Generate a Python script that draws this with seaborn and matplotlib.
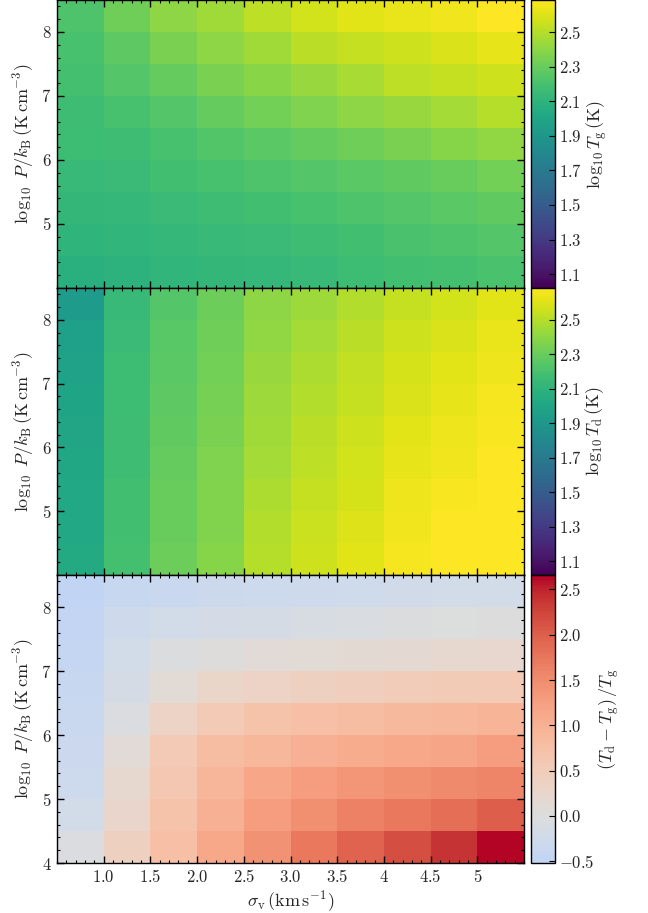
import numpy as np
import pandas as pd
import matplotlib
matplotlib.use("Agg")
import matplotlib.pyplot as plt
import seaborn as sns
from matplotlib.colors import ListedColormap

# ---------------- data ----------------
sigma_edges = [0.5, 1.0, 1.5, 2.0, 2.5, 3.0, 3.5, 4.0, 4.5, 5.0, 5.5]
sigma_centers = [0.75, 1.25, 1.75, 2.25, 2.75, 3.25, 3.75, 4.25, 4.75, 5.25]
logP_centers = [8.25, 7.75, 7.25, 6.75, 6.25, 5.75, 5.25, 4.75, 4.25]  # top -> bottom
logP_top = 8.5
logP_step = 0.5

x_tick_values = [1.0, 1.5, 2.0, 2.5, 3.0, 3.5, 4.0, 4.5, 5.0]
x_tick_labels = ["1.0", "1.5", "2.0", "2.5", "3.0", "3.5", "4", "4.5", "5"]
y_tick_values_top = [5, 6, 7, 8]
y_tick_values_bottom = [4, 5, 6, 7, 8]

logTg = [
    [2.22, 2.32, 2.40, 2.45, 2.52, 2.57, 2.61, 2.63, 2.65, 2.68],
    [2.20, 2.27, 2.35, 2.40, 2.45, 2.51, 2.54, 2.56, 2.59, 2.62],
    [2.19, 2.24, 2.29, 2.35, 2.39, 2.43, 2.47, 2.52, 2.54, 2.56],
    [2.17, 2.20, 2.24, 2.29, 2.33, 2.36, 2.40, 2.43, 2.46, 2.50],
    [2.16, 2.17, 2.20, 2.23, 2.26, 2.29, 2.32, 2.35, 2.38, 2.41],
    [2.14, 2.15, 2.18, 2.20, 2.22, 2.24, 2.26, 2.28, 2.30, 2.33],
    [2.12, 2.13, 2.15, 2.17, 2.18, 2.20, 2.22, 2.24, 2.26, 2.28],
    [2.10, 2.11, 2.13, 2.14, 2.15, 2.17, 2.18, 2.21, 2.22, 2.24],
    [2.08, 2.09, 2.11, 2.12, 2.13, 2.14, 2.16, 2.18, 2.19, 2.21],
]

logTd = [
    [1.93, 2.14, 2.24, 2.31, 2.40, 2.44, 2.49, 2.54, 2.57, 2.61],
    [1.96, 2.15, 2.25, 2.32, 2.41, 2.46, 2.51, 2.56, 2.59, 2.63],
    [1.98, 2.16, 2.26, 2.33, 2.43, 2.48, 2.53, 2.58, 2.61, 2.64],
    [1.99, 2.16, 2.27, 2.34, 2.44, 2.49, 2.54, 2.59, 2.62, 2.66],
    [2.00, 2.17, 2.28, 2.35, 2.45, 2.51, 2.56, 2.61, 2.64, 2.67],
    [2.01, 2.17, 2.29, 2.36, 2.46, 2.52, 2.57, 2.62, 2.65, 2.68],
    [2.02, 2.18, 2.30, 2.37, 2.48, 2.54, 2.58, 2.64, 2.67, 2.68],
    [2.02, 2.18, 2.30, 2.37, 2.49, 2.55, 2.60, 2.65, 2.68, 2.685],
    [2.03, 2.19, 2.31, 2.38, 2.50, 2.56, 2.61, 2.66, 2.68, 2.685],
]

ratio = [
    [-0.50, -0.40, -0.35, -0.32, -0.30, -0.28, -0.25, -0.23, -0.22, -0.20],
    [-0.47, -0.27, -0.20, -0.16, -0.14, -0.10, -0.07, -0.03, 0.00, 0.02],
    [-0.44, -0.20, -0.03, 0.05, 0.10, 0.12, 0.15, 0.17, 0.19, 0.22],
    [-0.40, -0.14, 0.12, 0.28, 0.36, 0.40, 0.45, 0.50, 0.53, 0.56],
    [-0.37, -0.05, 0.36, 0.56, 0.70, 0.75, 0.80, 0.86, 0.90, 0.95],
    [-0.33, 0.10, 0.55, 0.80, 0.92, 1.00, 1.07, 1.12, 1.18, 1.28],
    [-0.30, 0.20, 0.62, 0.93, 1.15, 1.28, 1.38, 1.46, 1.52, 1.60],
    [-0.22, 0.27, 0.70, 1.02, 1.28, 1.47, 1.62, 1.73, 1.85, 2.00],
    [-0.05, 0.42, 0.76, 1.12, 1.42, 1.73, 1.97, 2.17, 2.40, 2.66],
]

T_vmin, T_vmax = 1.02, 2.685
T_ticks = [1.1, 1.3, 1.5, 1.7, 1.9, 2.1, 2.3, 2.5]
R_vmin, R_vmax = -0.52, 2.66
R_ticks = [-0.5, 0.0, 0.5, 1.0, 1.5, 2.0, 2.5]

# ---------------- style ----------------
sns.set_theme(style="white")
plt.rcParams["mathtext.fontset"] = "cm"
plt.rcParams["font.family"] = ["DejaVu Serif"]
plt.rcParams["axes.linewidth"] = 1.0
plt.rcParams["axes.axisbelow"] = False

fig = plt.figure(figsize=(6.48, 9.13), dpi=100)

left, width = 57 / 648, 467 / 648
cb_left, cb_width = 531 / 648, 24 / 648
H = 913.0
panels_px = [(0, 288), (288, 575), (575, 863)]

dx = sigma_edges[1] - sigma_edges[0]


def x_idx(s):
    return (s - sigma_edges[0]) / dx


def y_idx(p):
    return (logP_top - p) / logP_step


# coolwarm truncated so that 0 sits on the neutral grey
R_sym = max(abs(R_vmin), R_vmax)
lo = 0.5 + R_vmin / (2 * R_sym)
cw = plt.get_cmap("coolwarm")
ratio_cmap = ListedColormap(cw(np.linspace(lo, 1.0, 256)))

datasets = [
    (logTg, "viridis", T_vmin, T_vmax, T_ticks, r"$\log_{10}T_{\rm g}\,({\rm K})$"),
    (logTd, "viridis", T_vmin, T_vmax, T_ticks, r"$\log_{10}T_{\rm d}\,({\rm K})$"),
    (ratio, ratio_cmap, R_vmin, R_vmax, R_ticks, r"$(T_{\rm d}-T_{\rm g})\,/T_{\rm g}$"),
]

x_minor = [x_idx(v) for v in np.arange(0.5, 5.5001, 0.1)]
y_minor = [y_idx(v) for v in np.arange(4.0, 8.5001, 0.2)]

for i, ((top, bot), (data, cmap, vmin, vmax, cticks, clabel)) in enumerate(zip(panels_px, datasets)):
    y0 = (H - bot) / H
    h = (bot - top) / H
    ax = fig.add_axes([left, y0, width, h])
    cax = fig.add_axes([cb_left, y0, cb_width, h])
    df = pd.DataFrame(data, index=logP_centers, columns=sigma_centers)
    sns.heatmap(df, ax=ax, cmap=cmap, vmin=vmin, vmax=vmax, cbar_ax=cax,
                xticklabels=False, yticklabels=False, linewidths=0)
    ax.set_xlim(0, len(sigma_centers))
    ax.set_ylim(len(logP_centers), 0)
    ax.set_axisbelow(False)

    for sp in ax.spines.values():
        sp.set_visible(True)
        sp.set_color("black")
        sp.set_linewidth(1.0)
        sp.set_zorder(5)

    ax.set_xticks([x_idx(v) for v in x_tick_values])
    ax.set_xticks(x_minor, minor=True)
    yt = y_tick_values_bottom if i == 2 else y_tick_values_top
    ax.set_yticks([y_idx(v) for v in yt])
    ax.set_yticklabels([rf"${v}$" for v in yt])
    ax.set_yticks(y_minor, minor=True)
    if i == 2:
        ax.set_xticklabels([rf"${t}$" for t in x_tick_labels])
        ax.set_xlabel(r"$\sigma_{\rm v}\,({\rm km\,s^{-1}})$", fontsize=13, labelpad=2)
    else:
        ax.set_xticklabels([])
    ax.set_ylabel(r"$\log_{10}\ P/k_{\rm B}\,({\rm K\,cm^{-3}})$", fontsize=13, labelpad=4)
    ax.tick_params(which="both", direction="in", top=True, right=True, bottom=True,
                   left=True, color="black")
    ax.tick_params(which="major", length=5, width=1.0, labelsize=12, pad=4)
    ax.tick_params(which="minor", length=2.5, width=0.8)
    ax.xaxis.set_zorder(4)
    ax.yaxis.set_zorder(4)

    cbar = ax.collections[0].colorbar
    cbar.outline.set_linewidth(1.0)
    cbar.outline.set_edgecolor("black")
    cbar.outline.set_visible(True)
    cbar.set_ticks(cticks)
    cbar.set_ticklabels([rf"${t:.1f}$" for t in cticks])
    cbar.ax.set_axisbelow(False)
    cbar.ax.yaxis.set_zorder(4)
    cbar.ax.tick_params(direction="in", length=4, width=0.8, labelsize=12,
                        right=True, color="black", pad=3)
    cbar.ax.minorticks_off()
    cbar.set_label(clabel, fontsize=13, labelpad=1)

fig.savefig("out.png", dpi=100)
